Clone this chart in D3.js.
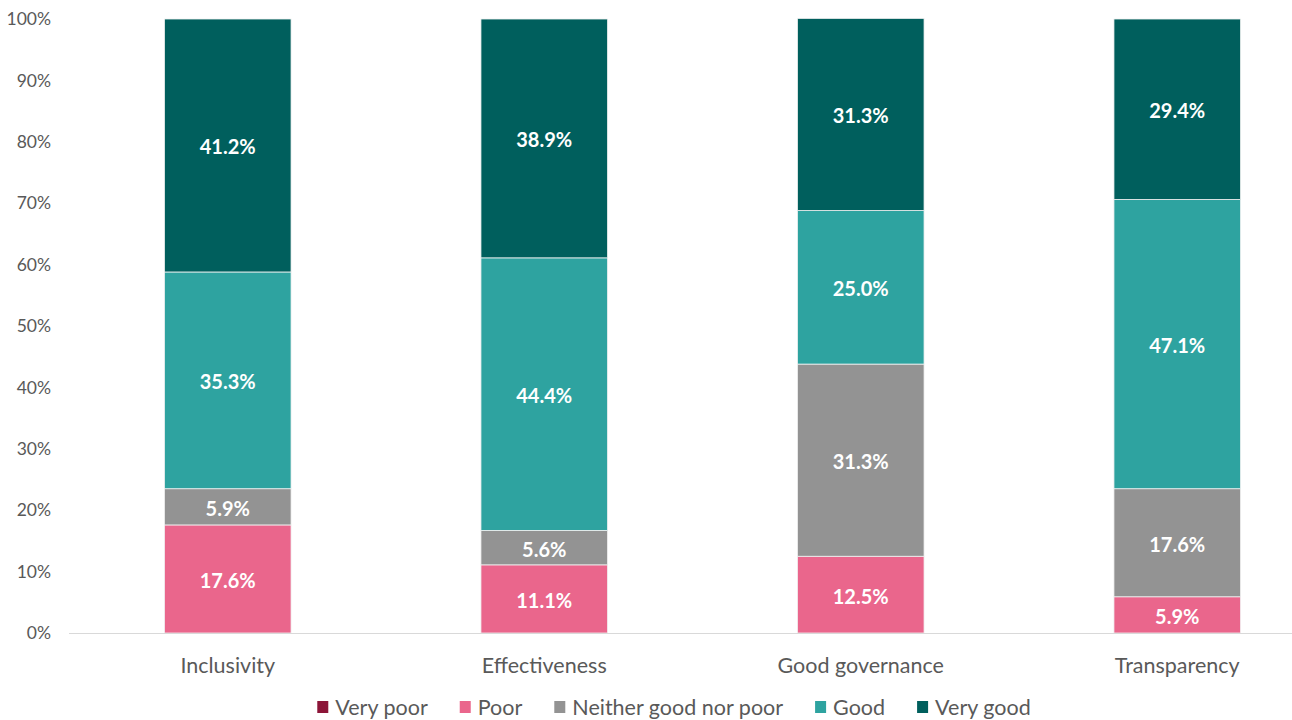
<!DOCTYPE html>
<html>
<head>
<meta charset="utf-8">
<script src="https://cdn.jsdelivr.net/npm/d3@7"></script>
<style>
  body { margin: 0; background: #fff; }
  text { font-family: Lato, "Open Sans", sans-serif; }
</style>
</head>
<body>
<svg id="chart" width="1292" height="720"></svg>
<script>
// data (percent)
var categories = ["Inclusivity", "Effectiveness", "Good governance", "Transparency"];
var series = ["Very poor", "Poor", "Neither good nor poor", "Good", "Very good"];
var veryPoor = [0, 0, 0, 0];
var poor = [17.6, 11.1, 12.5, 5.9];
var neither = [5.9, 5.6, 31.3, 17.6];
var good = [35.3, 44.4, 25.0, 47.1];
var veryGood = [41.2, 38.9, 31.3, 29.4];
var yTicks = [0, 10, 20, 30, 40, 50, 60, 70, 80, 90, 100];
var colors = ["#8c1538", "#ea668c", "#939393", "#2ea3a0", "#005f5d"];

var svg = d3.select("#chart");
var W = 1292;

var rows = categories.map(function (c, i) {
    return { cat: c, "Very poor": veryPoor[i], "Poor": poor[i], "Neither good nor poor": neither[i], "Good": good[i], "Very good": veryGood[i] };
});
var stacked = d3.stack().keys(series)(rows);

var x = d3.scaleBand().domain(categories).range([69.5, 1335.5]).paddingInner(0.6).paddingOuter(0.3);
var y = d3.scaleLinear().domain([0, 100]).range([633, 19]);
var color = d3.scaleOrdinal().domain(series).range(colors);

// y tick labels
svg.append("g").selectAll("text")
    .data(yTicks)
    .join("text")
    .attr("x", 51)
    .attr("y", d => y(d))
    .attr("dy", "0.35em")
    .attr("text-anchor", "end")
    .attr("font-size", 17.5)
    .attr("fill", "#595959")
    .text(d => d + "%");

// bars
var layer = svg.append("g").selectAll("g")
    .data(stacked)
    .join("g")
    .attr("fill", d => color(d.key));

layer.selectAll("rect")
    .data(d => d.filter(p => p[1] - p[0] > 0))
    .join("rect")
    .attr("x", d => x(d.data.cat))
    .attr("y", d => y(d[1]))
    .attr("width", x.bandwidth())
    .attr("height", d => y(d[0]) - y(d[1]))
    .attr("stroke", "#f2f2f2")
    .attr("stroke-width", 0.8);

// value labels
layer.selectAll("text")
    .data(d => d.filter(p => p[1] - p[0] > 0))
    .join("text")
    .attr("x", d => x(d.data.cat) + x.bandwidth() / 2)
    .attr("y", d => y((d[0] + d[1]) / 2) + 2)
    .attr("dy", "0.35em")
    .attr("text-anchor", "middle")
    .attr("font-size", 20)
    .attr("font-weight", "bold")
    .attr("fill", "#fff")
    .text(d => (d[1] - d[0]).toFixed(1) + "%");

// x axis line
svg.append("line")
    .attr("x1", 69).attr("x2", W)
    .attr("y1", 633.5).attr("y2", 633.5)
    .attr("stroke", "#d9d9d9")
    .attr("stroke-width", 1);

// category labels
svg.append("g").selectAll("text")
    .data(categories)
    .join("text")
    .attr("x", d => x(d) + x.bandwidth() / 2)
    .attr("y", 665)
    .attr("dy", "0.35em")
    .attr("text-anchor", "middle")
    .attr("font-size", 21.5)
    .attr("fill", "#595959")
    .text(d => d);

// legend
var legend = svg.append("g");
var items = legend.selectAll("g")
    .data(series)
    .join("g");
items.append("rect")
    .attr("width", 11).attr("height", 12)
    .attr("y", -6)
    .attr("fill", d => color(d));
items.append("text")
    .attr("x", 18)
    .attr("dy", "0.35em")
    .attr("font-size", 21.5)
    .attr("fill", "#595959")
    .text(d => d);

var offset = 0;
items.each(function () {
    var g = d3.select(this);
    g.attr("transform", "translate(" + offset + ",0)");
    offset += 18 + g.select("text").node().getComputedTextLength() + 32;
});
offset -= 32;
legend.attr("transform", "translate(" + (674 - offset / 2) + ",707)");
</script>
</body>
</html>
